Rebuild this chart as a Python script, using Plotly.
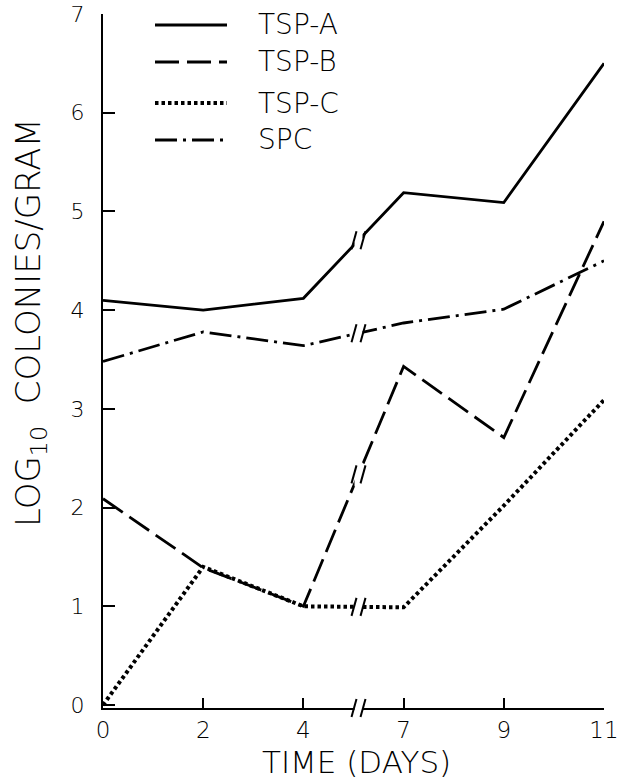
import plotly.graph_objects as go

# ---- data ----
days = [0, 2, 4, 7, 9, 11]
tsp_a = [4.10, 4.00, 4.12, 5.19, 5.09, 6.50]
tsp_b = [2.09, 1.39, 1.00, 3.43, 2.71, 4.90]
tsp_c = [0.00, 1.40, 1.00, 0.99, 2.02, 3.09]
spc = [3.48, 3.78, 3.64, 3.87, 4.01, 4.50]
y_ticks = [0, 1, 2, 3, 4, 5, 6, 7]
series_names = ["TSP-A", "TSP-B", "TSP-C", "SPC"]

# ---- layout geometry (pixels) ----
W, H = 630, 782
L, R, T, B = 103, 26, 14, 74
PW, PH = W - L - R, H - T - B
BREAK_POS = 2.55  # between day 4 and day 7 (index units)
FONT = "DejaVu Sans ExtraLight, DejaVu Sans Light, Liberation Sans, sans-serif"

def px2paper_x(px):
    return (px - L) / PW

def px2paper_y(py):
    return (H - B - py) / PH

xpos = list(range(len(days)))
styles = {
    "TSP-A": dict(dash="solid", width=2.8),
    "TSP-B": dict(dash="24px,8px", width=2.8),
    "TSP-C": dict(dash="3.5px,3px", width=4),
    "SPC": dict(dash="22px,6px,3px,6px", width=2.8),
}
values = {"TSP-A": tsp_a, "TSP-B": tsp_b, "TSP-C": tsp_c, "SPC": spc}

fig = go.Figure()
for name in series_names:
    fig.add_trace(go.Scatter(
        x=xpos, y=values[name], mode="lines", name=name,
        line=dict(color="black", width=styles[name]["width"], dash=styles[name]["dash"]),
        showlegend=False,
    ))

shapes = []

def add_break(xref, yref, xa, ya):
    shapes.append(dict(type="rect", xref=xref, yref=yref, xsizemode="pixel", ysizemode="pixel",
                       xanchor=xa, yanchor=ya, x0=-4, x1=4, y0=-12, y1=12,
                       fillcolor="white", line=dict(width=0), layer="above"))
    for dx in (-4.5, 4.5):
        shapes.append(dict(type="line", xref=xref, yref=yref, xsizemode="pixel", ysizemode="pixel",
                           xanchor=xa, yanchor=ya, x0=dx - 2.5, x1=dx + 2.5, y0=-9, y1=9,
                           line=dict(color="black", width=2), layer="above"))

# breaks on each series line (interpolated at break position)
i0 = 2
frac = BREAK_POS - i0
for name in series_names:
    v = values[name]
    yb = v[i0] + frac * (v[i0 + 1] - v[i0])
    add_break("x", "y", BREAK_POS, yb)
# break on x axis
add_break("x", "paper", BREAK_POS, 0)

# manual legend
leg_rows = [25, 62, 103, 140]
annotations = []
for name, row in zip(series_names, leg_rows):
    st = styles[name]
    shapes.append(dict(type="line", xref="paper", yref="paper",
                       x0=px2paper_x(155), x1=px2paper_x(227),
                       y0=px2paper_y(row), y1=px2paper_y(row),
                       line=dict(color="black", width=st["width"], dash=st["dash"])))
    annotations.append(dict(text=name, xref="paper", yref="paper",
                            x=px2paper_x(256), y=px2paper_y(row), xanchor="left", yanchor="middle",
                            showarrow=False, font=dict(size=28, color="black")))

annotations.append(dict(text="TIME (DAYS)", xref="paper", yref="paper",
                        x=px2paper_x(356), y=px2paper_y(762), xanchor="center", yanchor="middle",
                        showarrow=False, font=dict(size=31, color="black")))
annotations.append(dict(text="LOG<sub>10</sub>  COLONIES/GRAM", xref="paper", yref="paper",
                        x=px2paper_x(30), y=px2paper_y(323), xanchor="center", yanchor="middle",
                        textangle=-90, showarrow=False, font=dict(size=34, color="black")))

fig.update_layout(
    width=W, height=H,
    margin=dict(l=L, r=R, t=T, b=B, autoexpand=False),
    paper_bgcolor="white", plot_bgcolor="white",
    font=dict(family=FONT, color="black"),
    shapes=shapes, annotations=annotations,
    xaxis=dict(range=[0, 5], tickvals=xpos, ticktext=[str(d) for d in days],
               showgrid=False, zeroline=False, showline=True, linecolor="black", linewidth=2,
               ticks="inside", ticklen=10, tickwidth=2, tickcolor="black",
               tickfont=dict(size=23), ticklabelstandoff=0, automargin=False),
    yaxis=dict(range=[-0.03, 7], tickvals=y_ticks, ticktext=[str(t) for t in y_ticks],
               showgrid=False, zeroline=False, showline=True, linecolor="black", linewidth=2,
               ticks="inside", ticklen=12, tickwidth=2, tickcolor="black",
               tickfont=dict(size=22), ticklabelstandoff=12, automargin=False),
)

fig.write_html("out.html")
